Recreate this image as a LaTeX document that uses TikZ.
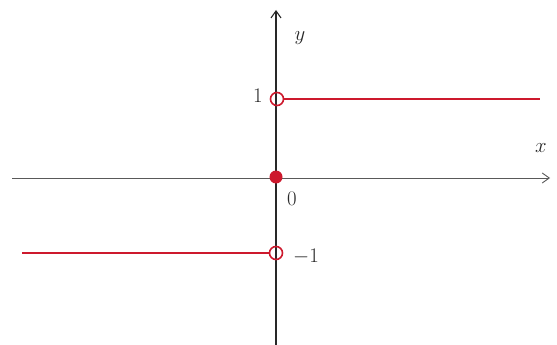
\documentclass[tikz,border=0pt]{standalone}
\usetikzlibrary{arrows.meta}
\definecolor{pen}{RGB}{40,40,40}
\definecolor{redpen}{RGB}{205,25,45}
\begin{document}
\begin{tikzpicture}[x=1pt,y=-1pt,
  axis/.style={draw=pen,line width=1.1pt,-{Straight Barb[length=7pt,width=10pt]}},
  graph/.style={draw=redpen,line width=1.5pt},
  opendot/.style={circle,draw=redpen,line width=1.6pt,inner sep=0pt,minimum size=13pt},
  filldot/.style={circle,fill=redpen,inner sep=0pt,minimum size=13pt},
  lab/.style={font=\huge,text=pen}]
\useasboundingbox (0,0) rectangle (557,345);
\fill[white] (0,0) rectangle (557,345);
% axes
\coordinate (xl) at (12,178);
\coordinate (xr) at (550,178);
\coordinate (yb) at (276,345);
\coordinate (yt) at (276,10);
\draw[axis,draw=gray!70!black,line width=0.9pt] (xl) -- (xr);
\draw[axis] (yb) -- (yt);
% graph
\coordinate (ue) at (540,99);
\coordinate (le) at (22,253);
\node[opendot] (up) at (277,99) {};
\node[opendot] (lo) at (276,253) {};
\node[filldot] (mid) at (276,177) {};
\draw[graph] (up.east) -- (ue);
\draw[graph] (le) -- (lo.west);
% labels
\node[lab] (ylab) at (300,38) {$y$};
\node[lab] (xlab) at (541,148) {$x$};
\node[lab] (one) at (258,96) {$1$};
\node[lab] (zero) at (292,199) {$0$};
\node[lab] (mone) at (306,257) {$-1$};
\end{tikzpicture}
\end{document}
